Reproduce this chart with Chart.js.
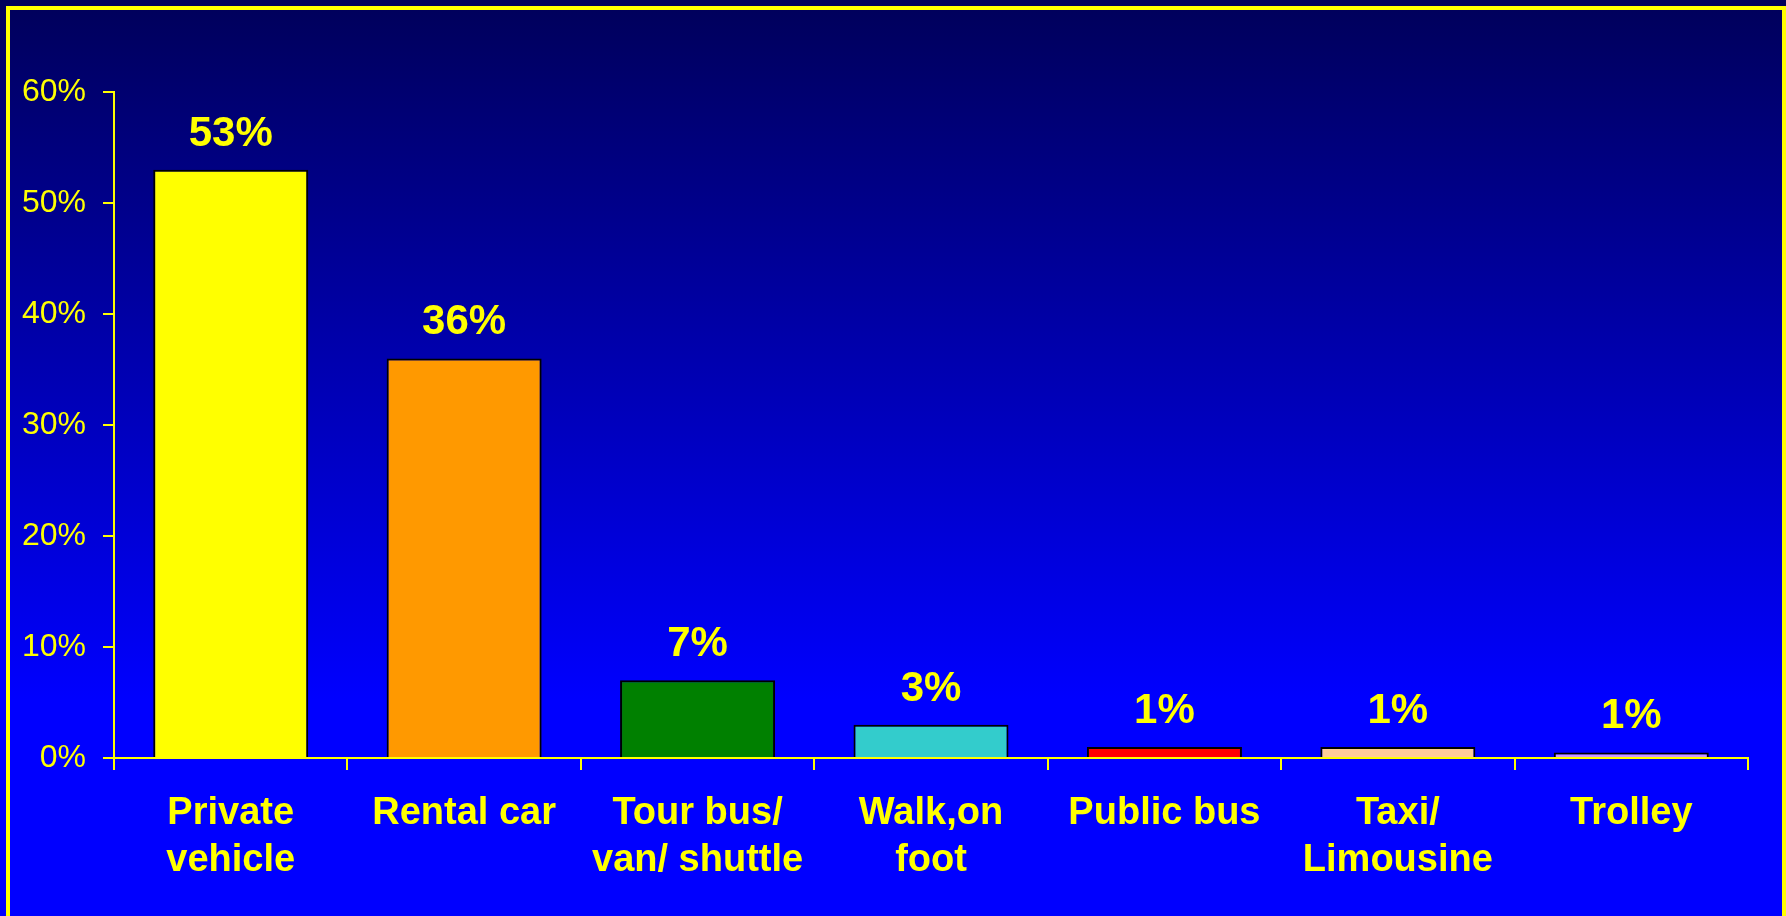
<!DOCTYPE html>
<html>
<head>
<meta charset="utf-8">
<title>Mode of transportation</title>
<script src="https://cdn.jsdelivr.net/npm/chart.js@4/dist/chart.umd.min.js"></script>
<style>
  html, body { margin: 0; padding: 0; }
  body {
    width: 1786px; height: 916px; overflow: hidden; position: relative;
    background: linear-gradient(to bottom, #00005a 0px, #0000ff 700px, #0000ff 916px);
  }
  #frame {
    position: absolute; left: 6px; top: 6px; width: 1780px; height: 1000px;
    box-sizing: border-box; border: 4px solid #ffff00; border-bottom: none;
  }
  #chart { position: absolute; left: 0; top: 0; }
</style>
</head>
<body>
<div id="frame"></div>
<canvas id="chart" width="1786" height="916"></canvas>
<script>
// Transportation modes and their share of visitors (percent)
const categories = [
  ['Private', 'vehicle'],
  'Rental car',
  ['Tour bus/', 'van/ shuttle'],
  ['Walk,on', 'foot'],
  'Public bus',
  ['Taxi/', 'Limousine'],
  'Trolley'
];
const shares = [53, 36, 7, 3, 1, 1, 0.5];
const barColors = ['#ffff00', '#ff9900', '#008000', '#33cccc', '#ff0000', '#ffcc99', '#cc99ff'];
const yTickValues = [0, 10, 20, 30, 40, 50, 60];

const YELLOW = '#ffff00';
const FONT = '"Liberation Sans", Arial, Helvetica, sans-serif';

// Percentage labels above each bar, rounded to whole percent
const valueLabels = {
  id: 'valueLabels',
  afterDatasetsDraw(chart) {
    const ctx = chart.ctx;
    const meta = chart.getDatasetMeta(0);
    ctx.save();
    ctx.fillStyle = YELLOW;
    ctx.font = 'bold 42px ' + FONT;
    ctx.textAlign = 'center';
    ctx.textBaseline = 'alphabetic';
    meta.data.forEach((bar, i) => {
      const v = chart.data.datasets[0].data[i];
      ctx.fillText(Math.round(v) + '%', bar.x, bar.y - 24);
    });
    ctx.restore();
  }
};

new Chart(document.getElementById('chart'), {
  type: 'bar',
  data: {
    labels: categories,
    datasets: [{
      data: shares,
      backgroundColor: barColors,
      borderColor: '#000000',
      borderWidth: 2,
      categoryPercentage: 1,
      barPercentage: 0.664
    }]
  },
  options: {
    responsive: false,
    animation: false,
    devicePixelRatio: 1,
    layout: { padding: { top: 92, right: 38, left: 0, bottom: 0 } },
    plugins: { legend: { display: false }, tooltip: { enabled: false } },
    scales: {
      x: {
        grid: {
          offset: true,
          drawOnChartArea: false,
          drawTicks: true,
          tickLength: 12,
          color: YELLOW,
          lineWidth: 2
        },
        border: { color: YELLOW, width: 2 },
        ticks: {
          color: YELLOW,
          font: { family: FONT, size: 38, weight: 'bold', lineHeight: 47 / 38 },
          padding: 20,
          maxRotation: 0,
          minRotation: 0,
          autoSkip: false
        },
        afterFit(scale) { scale.height = 158; }
      },
      y: {
        min: 0,
        max: 60,
        afterBuildTicks(scale) { scale.ticks = yTickValues.map(v => ({ value: v })); },
        grid: {
          drawOnChartArea: false,
          drawTicks: true,
          tickLength: 11,
          color: YELLOW,
          lineWidth: 2
        },
        border: { color: YELLOW, width: 2 },
        ticks: {
          color: YELLOW,
          font: { family: FONT, size: 32, weight: 'normal' },
          padding: 17,
          callback: v => v + '%'
        },
        afterFit(scale) { scale.width = 114; }
      }
    }
  },
  plugins: [valueLabels]
});
</script>
</body>
</html>
